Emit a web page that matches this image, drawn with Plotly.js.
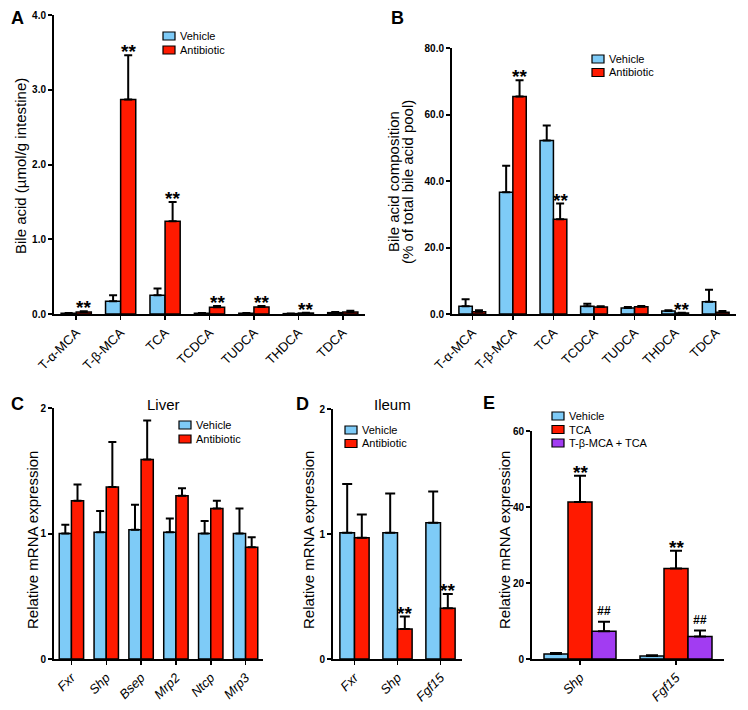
<!DOCTYPE html>
<html>
<head>
<meta charset="utf-8">
<script src="https://cdn.plot.ly/plotly-3.0.1.min.js"></script>
<style>html,body{margin:0;padding:0;background:#fff;}#chart{width:748px;height:710px;}</style>
</head>
<body>
<div id="chart"></div>
<script>
// ---------- DATA ----------
const catsAB = ['T-α-MCA', 'T-β-MCA', 'TCA', 'TCDCA', 'TUDCA', 'THDCA', 'TDCA'];

const aVehicle     = [0.010, 0.17, 0.25, 0.010, 0.010, 0.005, 0.018];
const aVehicleErr  = [0.003, 0.08, 0.09, 0.003, 0.003, 0.002, 0.009];
const aAntibiotic    = [0.027, 2.87, 1.24, 0.090, 0.094, 0.013, 0.027];
const aAntibioticErr = [0.009, 0.59, 0.26, 0.017, 0.013, 0.005, 0.018];
const aSig = ['**', '**', '**', '**', '**', '**', ''];

const bVehicle     = [2.3, 36.6, 52.2, 2.3, 1.8, 0.9, 3.7];
const bVehicleErr  = [2.1, 8.0, 4.5, 0.8, 0.3, 0.2, 3.6];
const bAntibiotic    = [0.7, 65.4, 28.5, 2.1, 2.2, 0.3, 0.5];
const bAntibioticErr = [0.4, 4.9, 4.7, 0.2, 0.2, 0.1, 0.4];
const bSig = ['', '**', '**', '', '', '**', ''];

const catsC = ['Fxr', 'Shp', 'Bsep', 'Mrp2', 'Ntcp', 'Mrp3'];
const cVehicle     = [1.00, 1.01, 1.03, 1.01, 1.00, 1.00];
const cVehicleErr  = [0.07, 0.17, 0.20, 0.11, 0.10, 0.20];
const cAntibiotic    = [1.26, 1.37, 1.59, 1.30, 1.20, 0.89];
const cAntibioticErr = [0.13, 0.36, 0.31, 0.06, 0.06, 0.08];

const catsD = ['Fxr', 'Shp', 'Fgf15'];
const dVehicle     = [1.01, 1.01, 1.09];
const dVehicleErr  = [0.39, 0.315, 0.25];
const dAntibiotic    = [0.97, 0.24, 0.405];
const dAntibioticErr = [0.185, 0.10, 0.115];
const dSig = ['', '**', '**'];

const catsE = ['Shp', 'Fgf15'];
const eVehicle    = [1.3, 0.8];
const eVehicleErr = [0.3, 0.2];
const eTCA        = [41.3, 23.8];
const eTCAErr     = [6.9, 4.7];
const eMix        = [7.3, 5.9];
const eMixErr     = [2.5, 1.6];
const eSigTCA = ['**', '**'];
const eSigMix = ['##', '##'];

const seriesNames2 = ['Vehicle', 'Antibiotic'];
const seriesNames3 = ['Vehicle', 'TCA', 'T-β-MCA + TCA'];

const titleA = 'Bile acid (µmol/g intestine)';
const titleB = ['Bile acid composition', '(% of total bile acid pool)'];
const titleCDE = 'Relative mRNA expression';

// ---------- STYLE ----------
const FONT = 'Liberation Sans, Arial, Helvetica, sans-serif';
const BLUE = '#7ecbf7', RED = '#ff1a00', PURPLE = '#a23cf2';
const W = 748, H = 710;

function px2x(p) { return p / W; }
function px2y(p) { return 1 - p / H; }

function bar(xa, ya, cats, vals, errs, name, color, width, offset, capw) {
  return {
    type: 'bar', x: cats, y: vals, xaxis: xa, yaxis: ya, name: name,
    width: width, offset: offset, showlegend: false,
    marker: {color: color, line: {color: '#000', width: 1.5}},
    error_y: {type: 'data', array: errs, arrayminus: errs.map(() => 0), symmetric: false,
              visible: true, color: '#000', thickness: 2, width: capw},
    hoverinfo: 'x+y+name'
  };
}

const traces = [];
const annotations = [];
const shapes = [];

function sigMarks(xref, yref, vals, errs, marks, offset, width, opts) {
  marks.forEach((m, i) => {
    if (!m) return;
    annotations.push({
      xref: xref, yref: yref, x: i + offset + width / 2, y: vals[i] + errs[i],
      text: m, showarrow: false, xanchor: 'center', yanchor: 'bottom',
      yshift: opts.yshift, font: Object.assign({family: FONT, color: '#000'}, opts.font)
    });
  });
}

const starFont = {size: 19, weight: 'bold'};
const starShift = -9;

// Panel A
const wA = 0.34;
traces.push(bar('x', 'y', catsAB, aVehicle, aVehicleErr, seriesNames2[0], BLUE, wA, -wA, 4));
traces.push(bar('x', 'y', catsAB, aAntibiotic, aAntibioticErr, seriesNames2[1], RED, wA, 0, 4));
sigMarks('x', 'y', aAntibiotic, aAntibioticErr, aSig, 0, wA, {yshift: starShift, font: starFont});

// Panel B
const wB = 0.33;
traces.push(bar('x2', 'y2', catsAB, bVehicle, bVehicleErr, seriesNames2[0], BLUE, wB, -wB, 4));
traces.push(bar('x2', 'y2', catsAB, bAntibiotic, bAntibioticErr, seriesNames2[1], RED, wB, 0, 4));
sigMarks('x2', 'y2', bAntibiotic, bAntibioticErr, bSig, 0, wB, {yshift: starShift, font: starFont});

// Panel C
const wC = 0.35;
traces.push(bar('x3', 'y3', catsC, cVehicle, cVehicleErr, seriesNames2[0], BLUE, wC, -wC, 4));
traces.push(bar('x3', 'y3', catsC, cAntibiotic, cAntibioticErr, seriesNames2[1], RED, wC, 0, 4));

// Panel D
const wD = 0.34;
traces.push(bar('x4', 'y4', catsD, dVehicle, dVehicleErr, seriesNames2[0], BLUE, wD, -wD, 5));
traces.push(bar('x4', 'y4', catsD, dAntibiotic, dAntibioticErr, seriesNames2[1], RED, wD, 0, 5));
sigMarks('x4', 'y4', dAntibiotic, dAntibioticErr, dSig, 0, wD, {yshift: starShift, font: starFont});

// Panel E
const wE = 0.25;
traces.push(bar('x5', 'y5', catsE, eVehicle, eVehicleErr, seriesNames3[0], BLUE, wE, -1.5 * wE, 6));
traces.push(bar('x5', 'y5', catsE, eTCA, eTCAErr, seriesNames3[1], RED, wE, -0.5 * wE, 6));
traces.push(bar('x5', 'y5', catsE, eMix, eMixErr, seriesNames3[2], PURPLE, wE, 0.5 * wE, 6));
sigMarks('x5', 'y5', eTCA, eTCAErr, eSigTCA, -0.5 * wE, wE, {yshift: starShift, font: starFont});
sigMarks('x5', 'y5', eMix, eMixErr, eSigMix, 0.5 * wE, wE, {yshift: 2, font: {size: 12, weight: 'bold', style: 'italic'}});

// ---------- LEGENDS (drawn manually) ----------
function legend(names, colors, boxLeft, firstRow, rowGap) {
  names.forEach((n, i) => {
    const yc = firstRow + i * rowGap;
    shapes.push({type: 'rect', xref: 'paper', yref: 'paper',
      x0: px2x(boxLeft), x1: px2x(boxLeft + 12), y0: px2y(yc + 4), y1: px2y(yc - 4),
      fillcolor: colors[i], line: {color: '#000', width: 1.2}});
    annotations.push({xref: 'paper', yref: 'paper', x: px2x(boxLeft + 15), y: px2y(yc),
      xanchor: 'left', yanchor: 'middle', text: n, showarrow: false,
      font: {family: FONT, size: 11, color: '#000'}});
  });
}
legend(seriesNames2, [BLUE, RED], 163, 36, 14);
legend(seriesNames2, [BLUE, RED], 592, 59, 13.5);
legend(seriesNames2, [BLUE, RED], 179, 425, 14);
legend(seriesNames2, [BLUE, RED], 345, 430, 13.5);
legend(seriesNames3, [BLUE, RED, PURPLE], 552, 416, 13.5);

// Panel letters and titles
[['A', 17, 18], ['B', 397, 18], ['C', 17, 404], ['D', 302, 404], ['E', 489, 403]].forEach(l => {
  annotations.push({xref: 'paper', yref: 'paper', x: px2x(l[1]), y: px2y(l[2]), xanchor: 'center', yanchor: 'middle',
    text: l[0], showarrow: false, font: {family: FONT, size: 18, weight: 'bold', color: '#000'}});
});
[['Liver', 163, 404], ['Ileum', 392, 404]].forEach(l => {
  annotations.push({xref: 'paper', yref: 'paper', x: px2x(l[1]), y: px2y(l[2]), xanchor: 'center', yanchor: 'middle',
    text: l[0], showarrow: false, font: {family: FONT, size: 15, color: '#000'}});
});

// Y-axis titles (rotated text)
[[titleA, 20, 166], [titleB[0], 393, 182], [titleB[1], 407, 182],
 [titleCDE, 32, 540], [titleCDE, 308, 540], [titleCDE, 504, 540]].forEach(t => {
  annotations.push({xref: 'paper', yref: 'paper', x: px2x(t[1]), y: px2y(t[2]), xanchor: 'center', yanchor: 'middle',
    textangle: -90, text: t[0], showarrow: false, font: {family: FONT, size: 15, color: '#000'}});
});

// ---------- AXES ----------
function xAxis(domL, domR, n, anchor, italic, cats) {
  const ax = {
    domain: [px2x(domL), px2x(domR)], anchor: anchor, type: 'category',
    range: [-0.5, n - 0.5], showline: true, linewidth: 2, linecolor: '#000',
    ticks: 'outside', ticklen: 4, tickwidth: 1.5, tickcolor: '#000',
    tickangle: -45, tickfont: {family: FONT, size: 13, color: '#000'},
    showgrid: false, zeroline: false, automargin: false, fixedrange: true
  };
  if (italic) { ax.tickmode = 'array'; ax.tickvals = cats; ax.ticktext = cats.map(c => '<i>' + c + '</i>'); }
  return ax;
}
function yAxis(domB, domT, max, dtick, fmt, anchor) {
  return {
    domain: [px2y(domB), px2y(domT)], anchor: anchor, range: [0, max],
    dtick: dtick, tick0: 0, tickformat: fmt, showline: true, linewidth: 2, linecolor: '#000',
    ticks: 'outside', ticklen: 4, tickwidth: 2, tickcolor: '#000',
    tickfont: {family: FONT, size: 10, weight: 'bold', color: '#000'},
    showgrid: false, zeroline: false, automargin: false, fixedrange: true
  };
}

const layout = {
  width: W, height: H, margin: {l: 0, r: 0, t: 0, b: 0},
  paper_bgcolor: '#fff', plot_bgcolor: 'rgba(0,0,0,0)',
  barmode: 'group', showlegend: false, font: {family: FONT, color: '#000'},
  xaxis:  xAxis(54, 365, catsAB.length, 'y', false, catsAB),
  yaxis:  yAxis(314, 15, 4, 1, '.1f', 'x'),
  xaxis2: xAxis(452, 736, catsAB.length, 'y2', false, catsAB),
  yaxis2: yAxis(314, 48, 80, 20, '.1f', 'x2'),
  xaxis3: xAxis(54, 263, catsC.length, 'y3', true, catsC),
  yaxis3: yAxis(659, 408, 2, 1, 'd', 'x3'),
  xaxis4: xAxis(333, 462, catsD.length, 'y4', true, catsD),
  yaxis4: yAxis(659, 409, 2, 1, 'd', 'x4'),
  xaxis5: xAxis(532, 724, catsE.length, 'y5', true, catsE),
  yaxis5: yAxis(659, 431, 60, 20, 'd', 'x5'),
  annotations: annotations, shapes: shapes
};

Plotly.newPlot('chart', traces, layout, {displayModeBar: false, staticPlot: true});
</script>
</body>
</html>
